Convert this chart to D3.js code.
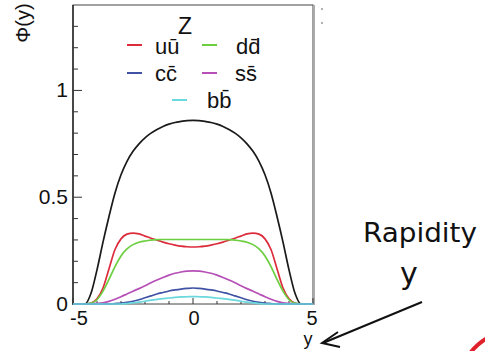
<!DOCTYPE html>
<html><head><meta charset="utf-8">
<script src="https://cdn.jsdelivr.net/npm/d3@7"></script>
<style>
html,body{margin:0;padding:0;background:#fff;}
svg{display:block;font-family:"Liberation Sans",Arial,sans-serif;}
</style></head>
<body>
<svg id="chart" width="485" height="351"></svg>
<script>
// ---- data ----
const rapidity = [-5,-4.75,-4.5,-4.25,-4,-3.75,-3.5,-3.25,-3,-2.75,-2.5,-2.25,-2,-1.75,-1.5,-1.25,-1,-0.75,-0.5,-0.25,0,0.25,0.5,0.75,1,1.25,1.5,1.75,2,2.25,2.5,2.75,3,3.25,3.5,3.75,4,4.25,4.5,4.75,5];
const totalZ = [0,0,0,0.05,0.16,0.29,0.41,0.52,0.605,0.668,0.715,0.75,0.778,0.8,0.817,0.831,0.842,0.85,0.855,0.859,0.86,0.859,0.855,0.85,0.842,0.831,0.817,0.8,0.778,0.75,0.715,0.668,0.605,0.52,0.41,0.29,0.16,0.05,0,0,0];
const uubar = [0,0,0,0.005,0.025,0.075,0.165,0.255,0.305,0.327,0.332,0.328,0.318,0.308,0.299,0.29,0.282,0.276,0.271,0.268,0.267,0.268,0.271,0.276,0.282,0.29,0.299,0.308,0.318,0.328,0.332,0.327,0.305,0.255,0.165,0.075,0.025,0.005,0,0,0];
const ddbar = [0,0,0,0.004,0.02,0.06,0.115,0.175,0.225,0.258,0.278,0.289,0.295,0.299,0.301,0.302,0.302,0.302,0.302,0.302,0.302,0.302,0.302,0.302,0.302,0.302,0.301,0.299,0.295,0.289,0.278,0.258,0.225,0.175,0.115,0.06,0.02,0.004,0,0,0];
const ssbar = [0,0,0,0.001,0.003,0.006,0.012,0.022,0.034,0.047,0.06,0.072,0.085,0.099,0.112,0.124,0.135,0.144,0.15,0.154,0.155,0.154,0.15,0.144,0.135,0.124,0.112,0.099,0.085,0.072,0.06,0.047,0.034,0.022,0.012,0.006,0.003,0.001,0,0,0];
const ccbar = [0,0,0,0,0,0,0,0.002,0.004,0.008,0.013,0.02,0.029,0.038,0.047,0.054,0.061,0.066,0.07,0.073,0.075,0.073,0.07,0.066,0.061,0.054,0.047,0.038,0.029,0.02,0.013,0.008,0.004,0.002,0,0,0,0,0,0,0];
const bbbar = [0,0,0,0,0,0,0,0,0,0.002,0.005,0.009,0.013,0.018,0.022,0.025,0.028,0.031,0.033,0.034,0.035,0.034,0.033,0.031,0.028,0.025,0.022,0.018,0.013,0.009,0.005,0.002,0,0,0,0,0,0,0,0,0];
const xTickLabels = [-5, 0, 5];
const yTickLabels = [0, 0.5, 1];
const legendTitle = "Z";

const series = [
  {name:"total", values: totalZ, color:"#1a1a1a"},
  {name:"u\u016B", values: uubar, color:"#dc2c3c"},
  {name:"dd\u0304", values: ddbar, color:"#6ccf3f"},
  {name:"ss\u0304", values: ssbar, color:"#b650b6"},
  {name:"cc\u0304", values: ccbar, color:"#4052a4"},
  {name:"bb\u0304", values: bbbar, color:"#6ad8dc"}
];

const svg = d3.select("#chart");
const x = d3.scaleLinear().domain([-5,5]).range([73,313]);
const y = d3.scaleLinear().domain([0,1.4]).range([304,5]);

// frame
svg.append("rect").attr("x",73).attr("y",5).attr("width",240).attr("height",299)
  .attr("fill","none").attr("stroke","#444").attr("stroke-width",1);
svg.append("line").attr("x1",314).attr("x2",314).attr("y1",5).attr("y2",305)
  .attr("stroke","#aaa").attr("stroke-width",2);
svg.append("line").attr("x1",73).attr("x2",73).attr("y1",5).attr("y2",305)
  .attr("stroke","#222").attr("stroke-width",1.4);

// y ticks
const yt = d3.range(0,14).map(i=>i/10);
svg.append("g").selectAll("line").data(yt).join("line")
  .attr("x1",73).attr("x2",(d,i)=> (i%5===0)? 82 : 78)
  .attr("y1",d=>y(d)).attr("y2",d=>y(d))
  .attr("stroke","#333").attr("stroke-width",1);
// x ticks
const xt = d3.range(-5,6);
svg.append("g").selectAll("line").data(xt).join("line")
  .attr("x1",d=>x(d)).attr("x2",d=>x(d))
  .attr("y1",304).attr("y2",d=> (d%5===0)? 298 : 301)
  .attr("stroke","#333").attr("stroke-width",1);

// tick labels
svg.append("g").selectAll("text").data(yTickLabels).join("text")
  .attr("x",68).attr("y",d=>y(d)+7).attr("text-anchor","end")
  .attr("font-size",21).attr("fill","#111").text(d=>String(d));
svg.append("g").selectAll("text").data(xTickLabels).join("text")
  .attr("x",d=>x(d)+ (d<0? 6: d>0? -1 : 1)).attr("y",325).attr("text-anchor","middle")
  .attr("font-size",20).attr("fill","#111").text(d=>String(d));

// axis titles
svg.append("text").attr("x",308).attr("y",345).attr("text-anchor","middle")
  .attr("font-size",18).attr("fill","#111").text("y");
svg.append("text").attr("transform","translate(30,23) rotate(-90)").attr("text-anchor","middle")
  .attr("font-size",20).attr("fill","#111").text("\u03A6(y)");

// curves
const line = d3.line().x((d,i)=>x(rapidity[i])).y(d=>y(d)).curve(d3.curveMonotoneX);
svg.append("g").selectAll("path").data(series).join("path")
  .attr("d",s=>line(s.values)).attr("fill","none")
  .attr("stroke",s=>s.color).attr("stroke-width",1.7);

// legend
svg.append("text").attr("x",185).attr("y",34).attr("text-anchor","middle")
  .attr("font-size",23).attr("fill","#111").text(legendTitle);
const legendItems = [
  {s:series[1], lx:127, ly:45, tx:155, ty:54},
  {s:series[2], lx:202, ly:45, tx:236, ty:54},
  {s:series[4], lx:127, ly:73, tx:155, ty:81},
  {s:series[3], lx:202, ly:73, tx:235, ty:81},
  {s:series[5], lx:172, ly:100, tx:207, ty:108}
];
const lg = svg.append("g");
legendItems.forEach(it=>{
  lg.append("line").attr("x1",it.lx).attr("x2",it.lx+15).attr("y1",it.ly).attr("y2",it.ly)
    .attr("stroke",it.s.color).attr("stroke-width",2);
  lg.append("text").attr("x",it.tx).attr("y",it.ty).attr("font-size",22)
    .attr("fill","#111").text(it.s.name);
});

// annotation
svg.append("text").attr("x",420).attr("y",242).attr("text-anchor","middle")
  .attr("font-family","'DejaVu Sans',sans-serif").attr("font-size",26)
  .attr("textLength",114).attr("lengthAdjust","spacingAndGlyphs")
  .attr("fill","#111").text("Rapidity");
svg.append("text").attr("x",409).attr("y",284).attr("text-anchor","middle")
  .attr("font-family","'DejaVu Sans',sans-serif").attr("font-size",30)
  .attr("fill","#111").text("y");
svg.append("line").attr("x1",422).attr("y1",302).attr("x2",323).attr("y2",343)
  .attr("stroke","#111").attr("stroke-width",2);
svg.append("path").attr("d","M338,332 L322,343 L340,347").attr("fill","none")
  .attr("stroke","#111").attr("stroke-width",2);
svg.append("path").attr("d","M471,352 Q477,344 487,338").attr("fill","none")
  .attr("stroke","#e0202a").attr("stroke-width",4);
svg.append("circle").attr("cx",322).attr("cy",9).attr("r",1).attr("fill","#999");
svg.append("circle").attr("cx",322).attr("cy",23).attr("r",1).attr("fill","#999");
</script>
</body></html>
